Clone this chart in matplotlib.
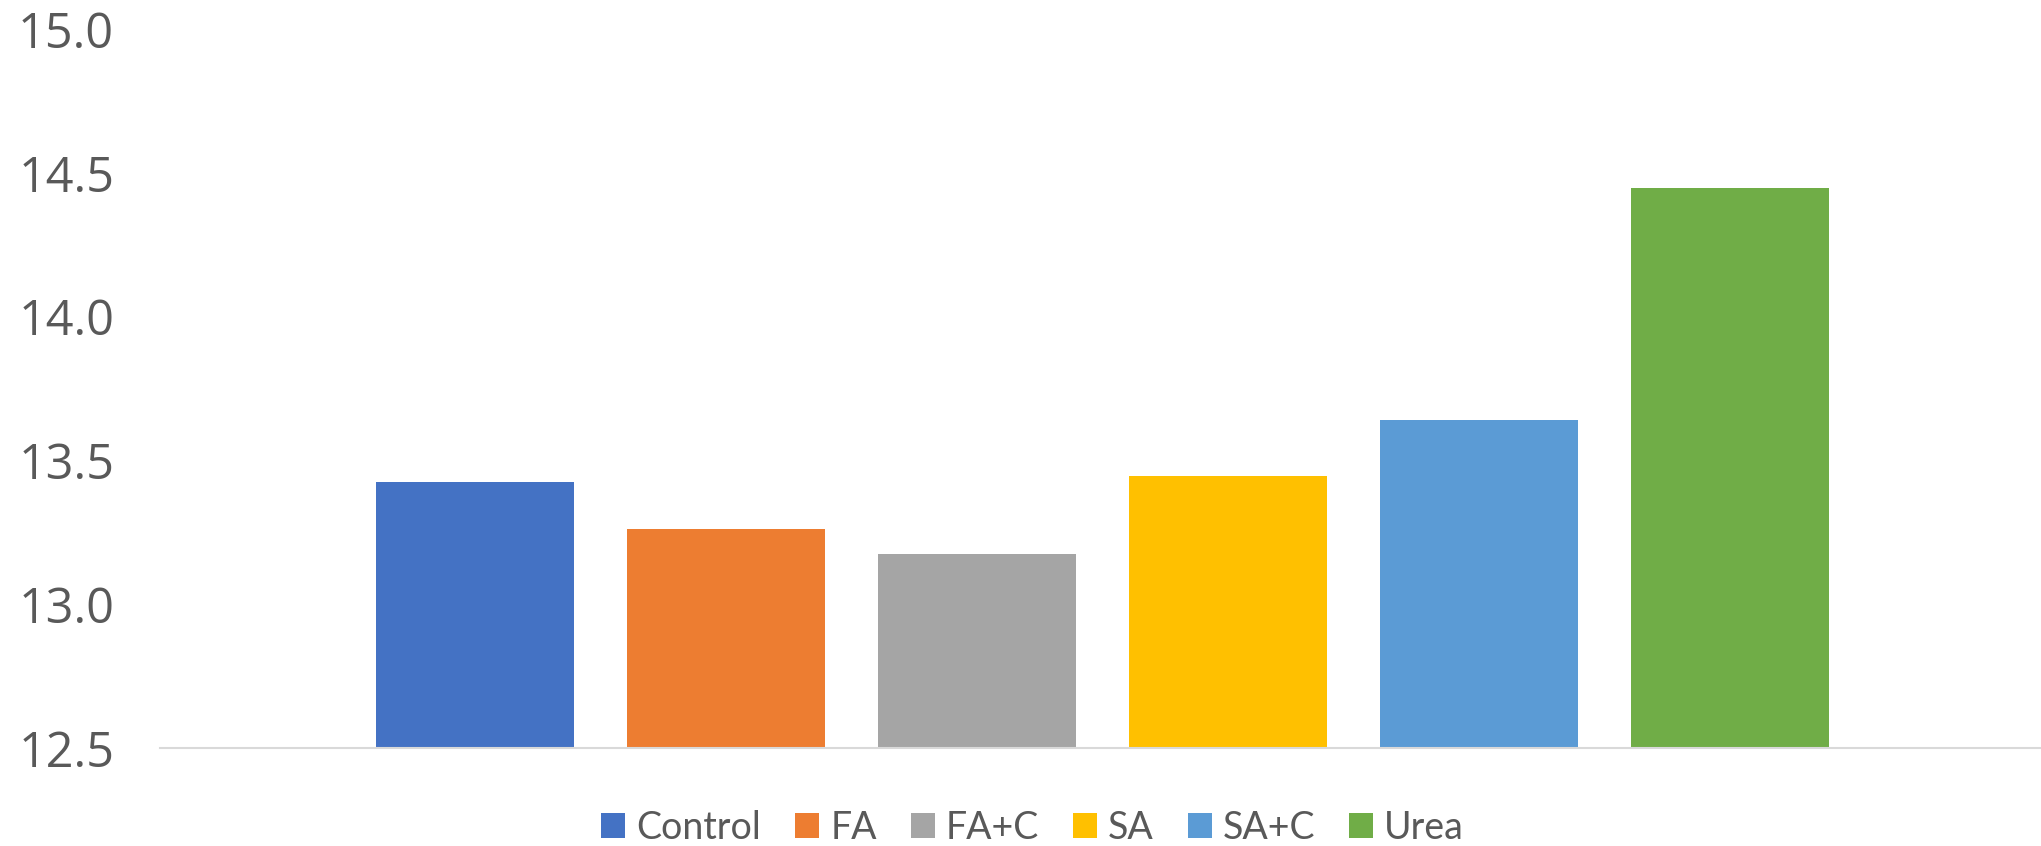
import matplotlib
matplotlib.use("Agg")
import matplotlib.pyplot as plt
import numpy as np
from matplotlib.patches import Patch

# values
categories = ["Control", "FA", "FA+C", "SA", "SA+C", "Urea"]
values = [13.425, 13.261, 13.173, 13.446, 13.640, 14.447]
colors = ["#4472C4", "#ED7D31", "#A5A5A5", "#FFC000", "#5B9BD5", "#70AD47"]
yticks = [12.5, 13.0, 13.5, 14.0, 14.5, 15.0]

W, H = 2041, 846
fig = plt.figure(figsize=(W / 100, H / 100), dpi=100)
ax = fig.add_axes([160 / W, 98 / H, (2040 - 160) / W, (817 - 98) / H])

x = np.arange(len(categories))
ax.bar(x, values, width=198 / 251, color=colors, bottom=0)

ax.set_ylim(12.5, 15.0)
ax.set_xlim((160 - 475) / 251, (2040 - 475) / 251)
ax.set_yticks(yticks)
ax.set_yticklabels([f"{v:.1f}" for v in yticks])
ax.set_xticks([])
ax.tick_params(axis="y", length=0, pad=33, labelsize=35, labelcolor="#595959")
for lbl in ax.get_yticklabels():
    lbl.set_fontfamily("Open Sans")

for s in ["top", "right", "left"]:
    ax.spines[s].set_visible(False)
ax.spines["bottom"].set_color("#D9D9D9")
ax.spines["bottom"].set_linewidth(1.5)

handles = [Patch(facecolor=c, edgecolor="none", label=l) for c, l in zip(colors, categories)]
fig.legend(handles=handles, loc="center", bbox_to_anchor=(0.506, (H - 828) / H),
           ncol=6, frameon=False, prop={"family": "Lato", "size": 27},
           labelcolor="#595959", handlelength=0.64, handleheight=0.64,
           handletextpad=0.3, columnspacing=0.9)

fig.savefig("out.png", dpi=100)
